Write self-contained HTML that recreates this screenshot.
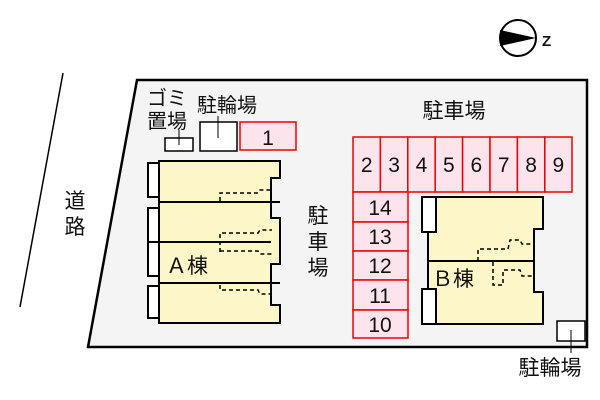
<!DOCTYPE html>
<html><head><meta charset="utf-8"><style>
html,body{margin:0;padding:0;background:#fff;width:600px;height:400px;overflow:hidden}
svg{display:block}
text{font-family:"Liberation Sans","Noto Sans CJK JP",sans-serif;fill:#111}
</style></head><body>
<svg width="600" height="400" viewBox="0 0 600 400" xmlns="http://www.w3.org/2000/svg">
<line x1="63" y1="73" x2="20" y2="307" stroke="#000" stroke-width="1.5"/>
<text x="75" y="208" font-size="21" text-anchor="middle">道</text>
<text x="75" y="234" font-size="21" text-anchor="middle">路</text>
<circle cx="518" cy="38" r="18" fill="#fff" stroke="#000" stroke-width="2"/>
<polygon points="500,30 536,38 500,46" fill="#000"/>
<text x="542" y="46" font-size="15" font-weight="bold">Z</text>
<polygon points="137,80 587,80 587,347 88,347" fill="#f4f4f4" stroke="#000" stroke-width="2.5"/>
<text x="147" y="105" font-size="20">ゴミ</text>
<text x="147" y="128" font-size="20">置場</text>
<text x="197" y="112" font-size="20">駐輪場</text>
<rect x="165" y="138" width="28" height="13" fill="#fff" stroke="#000" stroke-width="1.5"/>
<line x1="179" y1="130" x2="179" y2="145" stroke="#000"/>
<rect x="200" y="122" width="37" height="29" fill="#fff" stroke="#000" stroke-width="1.5"/>
<line x1="218" y1="116" x2="218" y2="138" stroke="#000"/>
<rect x="240" y="122" width="56" height="28" fill="#fde4ec" stroke="#e00" stroke-width="1.5"/>
<text x="268" y="145" font-size="21" text-anchor="middle">1</text>
<text x="454" y="118" font-size="21" text-anchor="middle">駐車場</text>
<text x="318" y="223" font-size="21" text-anchor="middle">駐</text>
<text x="318" y="249" font-size="21" text-anchor="middle">車</text>
<text x="318" y="275" font-size="21" text-anchor="middle">場</text>
<g fill="#fde4ec" stroke="#e00" stroke-width="1.5">
<rect x="353" y="137" width="27.4" height="55"/><rect x="380.4" y="137" width="27.4" height="55"/>
<rect x="407.8" y="137" width="27.4" height="55"/><rect x="435.2" y="137" width="27.4" height="55"/>
<rect x="462.6" y="137" width="27.4" height="55"/><rect x="490" y="137" width="27.4" height="55"/>
<rect x="517.4" y="137" width="27.4" height="55"/><rect x="544.8" y="137" width="27.2" height="55"/>
<rect x="353" y="192" width="55" height="30"/><rect x="353" y="222" width="55" height="29"/>
<rect x="353" y="251" width="55" height="29"/><rect x="353" y="280" width="55" height="30"/>
<rect x="353" y="310" width="55" height="28"/>
</g>
<g font-size="21" text-anchor="middle">
<text x="366.7" y="172">2</text><text x="394.1" y="172">3</text><text x="421.5" y="172">4</text>
<text x="448.9" y="172">5</text><text x="476.3" y="172">6</text><text x="503.7" y="172">7</text>
<text x="531.1" y="172">8</text><text x="558.4" y="172">9</text>
<text x="380" y="215">14</text><text x="380" y="244">13</text><text x="380" y="273">12</text>
<text x="380" y="303">11</text><text x="380" y="332">10</text>
</g>
<g stroke="#000" stroke-width="2">
<rect x="148" y="163" width="11" height="34" fill="#fff"/>
<rect x="148" y="208" width="11" height="68" fill="#fff"/>
<rect x="148" y="286" width="11" height="32" fill="#fff"/>
<polygon points="159,161 280,161 280,178 271,178 271,218 280,218 280,264 271,264 271,305 280,305 280,323 159,323" fill="#fdf6c8"/>
<line x1="159" y1="202" x2="280" y2="202"/><line x1="159" y1="242" x2="271" y2="242"/><line x1="159" y1="283" x2="280" y2="283"/>
<line x1="148" y1="242" x2="159" y2="242"/>
</g>
<g stroke="#000" stroke-width="1.5" fill="none" stroke-dasharray="4,3">
<polyline points="220,201 220,193 258,193 260,190 272,190"/>
<polyline points="220,252 220,233 258,233 260,230 272,230"/>
<polyline points="220,251 258,251 260,254 272,254"/>
<polyline points="220,285 220,290 258,290 260,294 272,294"/>
</g>
<text x="166" y="273" font-size="21">Ａ棟</text>
<g stroke="#000" stroke-width="2">
<rect x="422" y="197" width="14" height="35" fill="#fff"/>
<rect x="422" y="289" width="14" height="35" fill="#fff"/>
<polygon points="436,197 543,197 543,229 534,229 534,292 543,292 543,324 436,324 436,289 428,289 428,232 436,232" fill="#fdf6c8"/>
<line x1="428" y1="261" x2="534" y2="261"/>
</g>
<g stroke="#000" stroke-width="1.5" fill="none" stroke-dasharray="4,3">
<polyline points="478,261 478,249 508,249 510,240 520,240 522,244 534,244"/>
<polyline points="493,262 493,285 503,285 503,270 520,270 522,276 534,276"/>
</g>
<text x="432" y="286" font-size="21">Ｂ棟</text>
<rect x="557" y="321" width="28" height="20" fill="#fff" stroke="#000" stroke-width="1.5"/>
<line x1="571" y1="330" x2="571" y2="353" stroke="#000"/>
<text x="550" y="375" font-size="21" text-anchor="middle">駐輪場</text>
</svg>
</body></html>
